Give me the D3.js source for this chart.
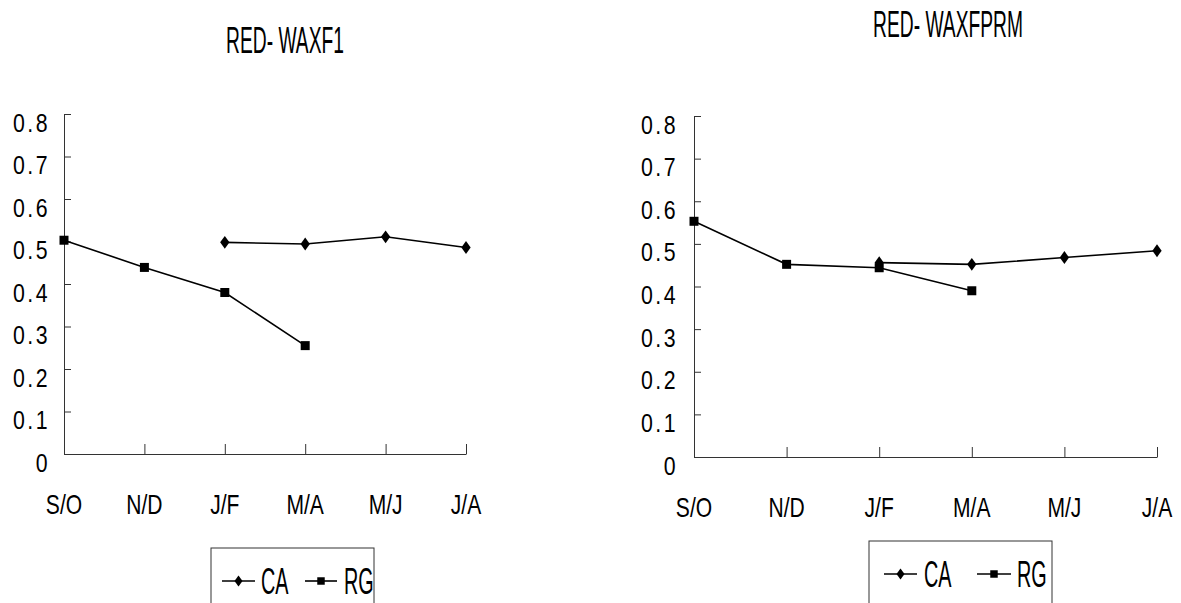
<!DOCTYPE html>
<html>
<head>
<meta charset="utf-8">
<script src="https://cdn.jsdelivr.net/npm/d3@7.9.0/dist/d3.min.js"></script>
<style>
  body { margin: 0; background: #fff; }
  text { font-family: "Liberation Sans", Arial, sans-serif; fill: #000; }
</style>
</head>
<body>
<svg id="chart" width="1181" height="603"></svg>
<script>
const categories = ["S/O", "N/D", "J/F", "M/A", "M/J", "J/A"];
const yTicks = [0, 0.1, 0.2, 0.3, 0.4, 0.5, 0.6, 0.7, 0.8];

// RED-WAXF1
const waxf1CA = [null, null, 0.498, 0.494, 0.511, 0.486];
const waxf1RG = [0.503, 0.439, 0.38, 0.255, null, null];

// RED-WAXFPRM
const waxfprmCA = [null, null, 0.456, 0.452, 0.468, 0.484];
const waxfprmRG = [0.553, 0.452, 0.444, 0.39, null, null];

const seriesNames = ["CA", "RG"];

const svg = d3.select('#chart');
svg.append('rect').attr('width', 1181).attr('height', 603).attr('fill', '#fff');

const diamond = d3.symbol().type(d3.symbolDiamond);
const square = d3.symbol().type(d3.symbolSquare);

// squeezed text, like the narrow font in the original
function squeezed(g, x, y, str, size, sx, anchor) {
    g.append('text')
        .attr('transform', `translate(${x},${y}) scale(${sx},1)`)
        .attr('text-anchor', anchor)
        .attr('font-size', size)
        .text(str);
}

function drawPanel(p) {
    let g = svg.append('g');

    let x = d3.scalePoint().domain(categories).range([p.x0, p.x1]);
    let y = d3.scaleLinear().domain([0, 0.8]).range([p.y0, p.y1]);

    // y axis, ticks pointing inwards
    let yAxis = g.append('g')
        .attr('transform', `translate(${p.x0},0)`)
        .call(d3.axisLeft(y).tickValues(yTicks).tickSizeInner(-7).tickSizeOuter(0)
            .tickPadding(0).tickFormat(d => d === 0 ? '0' : d3.format('.1f')(d)));
    yAxis.select('.domain').attr('stroke', '#333');
    yAxis.selectAll('.tick line').attr('stroke', '#333');
    yAxis.selectAll('.tick text')
        .attr('x', null).attr('dy', null)
        .attr('transform', `translate(${-p.labelGap},17) scale(0.82,1)`)
        .attr('font-size', 26)
        .attr('font-family', '"Liberation Sans", Arial, sans-serif')
        .attr('letter-spacing', 3);

    // x axis, ticks pointing up
    let xAxis = g.append('g')
        .attr('transform', `translate(0,${p.y0})`)
        .call(d3.axisBottom(x).tickSizeInner(-10).tickSizeOuter(0).tickPadding(0));
    xAxis.select('.domain').attr('stroke', '#333');
    xAxis.selectAll('.tick line').attr('stroke', '#333');
    xAxis.selectAll('.tick text').remove();
    categories.forEach(c => squeezed(g, x(c), p.y0 + 60, c, 27, 0.78, 'middle'));

    // title
    squeezed(g, p.titleX, p.titleY, p.title, 37, 0.52, 'middle');

    let line = d3.line()
        .defined(d => d.v !== null)
        .x(d => x(d.c))
        .y(d => y(d.v));

    [p.ca, p.rg].forEach((vals, i) => {
        let pts = vals.map((v, j) => ({ c: categories[j], v: v }));
        g.append('path')
            .attr('d', line(pts))
            .attr('fill', 'none')
            .attr('stroke', '#000')
            .attr('stroke-width', 1.6);
        g.selectAll(null)
            .data(pts.filter(d => d.v !== null))
            .join('path')
            .attr('transform', d => `translate(${x(d.c)},${y(d.v)})` + (i === 0 ? ' scale(1.25,1)' : ''))
            .attr('d', i === 0 ? diamond.size(48)() : square.size(81)())
            .attr('fill', '#000');
    });

    // legend
    let lg = g.append('g').attr('transform', `translate(${p.legend.x},${p.legend.y})`);
    lg.append('rect')
        .attr('width', p.legend.w).attr('height', 80)
        .attr('fill', '#fff').attr('stroke', '#333');
    seriesNames.forEach((name, i) => {
        let it = p.legend.items[i];
        lg.append('line')
            .attr('x1', it.l0).attr('x2', it.l1)
            .attr('y1', 33).attr('y2', 33)
            .attr('stroke', '#000').attr('stroke-width', 1.6);
        lg.append('path')
            .attr('transform', `translate(${(it.l0 + it.l1) / 2},33)` + (i === 0 ? ' scale(1.25,1)' : ''))
            .attr('d', i === 0 ? diamond.size(36)() : square.size(56)())
            .attr('fill', '#000');
        squeezed(lg, it.t, 46, name, 36, 0.55, 'start');
    });
}

drawPanel({
    title: 'RED- WAXF1', ca: waxf1CA, rg: waxf1RG,
    x0: 64, x1: 466, y0: 454, y1: 114, labelGap: 14,
    titleX: 285, titleY: 53,
    legend: { x: 211, y: 548, w: 163, items: [{ l0: 11, l1: 44, t: 50 }, { l0: 94, l1: 126, t: 133 }] }
});

drawPanel({
    title: 'RED- WAXFPRM', ca: waxfprmCA, rg: waxfprmRG,
    x0: 694, x1: 1157, y0: 457, y1: 116, labelGap: 16,
    titleX: 948, titleY: 37,
    legend: { x: 869, y: 541, w: 183, items: [{ l0: 15, l1: 48, t: 55 }, { l0: 108, l1: 142, t: 148 }] }
});
</script>
</body>
</html>
